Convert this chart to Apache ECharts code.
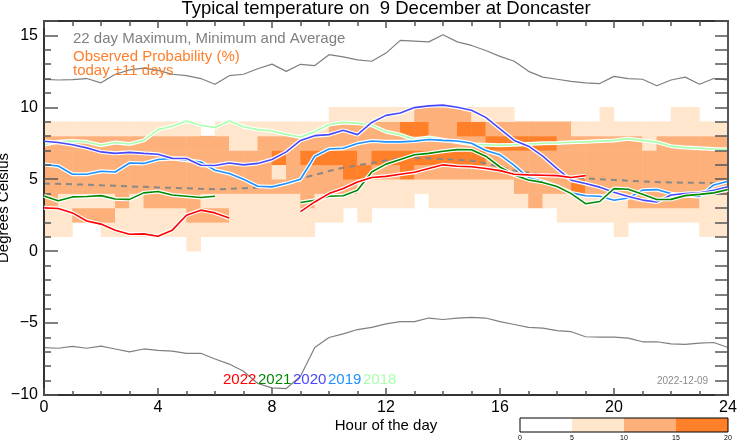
<!DOCTYPE html>
<html><head><meta charset="utf-8">
<script src="https://cdn.jsdelivr.net/npm/echarts@6/dist/echarts.min.js"></script>
<style>html,body{margin:0;padding:0;background:#fff}#c{width:742px;height:445px}</style>
</head><body><div id="c"></div>
<script>
// ---- data ----
const hours = [0,0.5,1,1.5,2,2.5,3,3.5,4,4.5,5,5.5,6,6.5,7,7.5,8,8.5,9,9.5,10,10.5,11,11.5,12,12.5,13,13.5,14,14.5,15,15.5,16,16.5,17,17.5,18,18.5,19,19.5,20,20.5,21,21.5,22,22.5,23,23.5,24];
const xTicks = [0,4,8,12,16,20,24];
const yTicks = [-10,-5,0,5,10,15];
const maxT = [11.94,11.9,11.93,12.0,11.7,12.3,12.6,12.73,12.57,12.3,12.2,12.0,11.6,12.2,12.3,12.68,13.0,12.5,12.99,12.9,13.66,13.5,13.3,13.2,13.77,14.65,14.6,14.55,15.05,14.55,14.3,13.95,13.54,13.2,12.5,12.1,11.95,11.8,11.7,11.65,12.15,12.0,11.95,11.5,11.9,12.1,11.6,12.0,11.9];
const minT = [-6.71,-6.75,-6.62,-6.75,-6.6,-6.8,-7.0,-6.8,-6.9,-6.95,-7.1,-7.1,-7.5,-7.85,-8.35,-9.2,-9.5,-9.55,-8.7,-6.7,-6.0,-5.75,-5.45,-5.3,-5.05,-4.9,-4.9,-4.65,-4.75,-4.65,-4.6,-4.65,-4.9,-5.1,-5.3,-5.35,-5.53,-5.6,-5.95,-5.97,-5.97,-6.05,-6.3,-6.3,-6.45,-6.48,-6.4,-6.35,-6.7];
const avgT = [4.7,4.68,4.65,4.62,4.58,4.55,4.5,4.47,4.43,4.4,4.37,4.33,4.3,4.33,4.37,4.42,4.5,4.75,5.05,5.3,5.57,5.8,5.97,6.13,6.3,6.45,6.48,6.45,6.4,6.35,6.3,6.1,5.85,5.6,5.45,5.33,5.2,5.13,5.07,5.0,4.95,4.9,4.85,4.8,4.78,4.76,4.75,4.73,4.72];
const y2018 = [7.41,7.6,7.66,7.6,7.36,7.55,7.45,7.7,8.45,8.68,9.05,8.75,8.6,9.05,8.65,8.45,8.35,8.12,7.94,8.3,8.8,8.95,8.9,8.75,8.3,8.1,7.76,7.9,7.75,7.58,7.43,7.4,7.36,7.4,7.45,7.5,7.52,7.57,7.6,7.65,7.7,7.82,7.7,7.58,7.3,7.2,7.15,7.1,7.06];
const y2019 = [6.02,5.92,5.35,5.35,5.56,5.5,6.13,6.1,6.37,6.44,6.32,6.2,5.62,5.4,5.0,4.51,4.47,4.7,5.0,6.6,7.1,7.15,7.48,7.66,7.6,7.6,7.65,7.76,7.7,7.66,7.5,7.0,6.7,5.97,5.1,4.85,4.5,4.05,3.85,3.82,3.54,3.7,4.24,4.28,4.0,3.85,3.8,4.6,4.86];
const y2020 = [7.64,7.55,7.4,7.18,6.9,6.8,6.87,6.8,6.74,6.45,6.44,5.97,5.95,6.13,6.0,6.1,6.37,6.9,7.7,8.03,8.1,8.4,8.1,8.95,9.44,9.6,9.98,10.1,10.15,10.0,9.8,9.3,8.5,7.7,7.3,6.6,5.74,4.93,4.7,4.45,4.1,3.8,3.55,3.42,3.9,4.0,4.05,4.24,4.47];
const y2021 = [3.84,3.5,3.77,3.8,3.86,3.63,3.6,4.05,4.15,3.9,3.82,3.73,3.82,null,null,null,null,null,3.38,3.54,3.82,3.85,4.24,5.5,6.05,6.37,6.7,6.8,6.95,7.06,7.05,6.6,5.85,5.3,4.95,4.78,4.5,4.0,3.3,3.45,4.35,4.3,3.95,3.59,3.6,3.86,3.95,4.05,4.28];
const y2022 = [3.01,2.97,2.66,2.1,1.88,1.46,1.18,1.2,1.04,1.46,2.5,2.85,2.66,2.3,null,null,null,null,2.75,3.42,4.0,4.35,4.81,5.12,5.2,5.35,5.48,5.75,6.0,5.9,5.87,5.75,5.6,5.35,5.3,5.28,5.25,5.12,5.25,null,null,null,null,null,null,null,null,null,null];
// observed probability (%) per half-hour column, one array per 1-degree bin
const prob0 = [0,0,0,0,0,0,0,0, 0,0,7,0,0,0,0,0, 0,0,0,0,0,0,0,0, 0,0,0,0,0,0,0,0, 0,0,0,0,0,0,0,0, 0,0,0,0,0,0,0,0];
const prob1 = [7,7,0,0,7,7,7,7, 7,7,7,7,7,7,7,7, 7,7,7,0,0,0,0,0, 0,0,0,0,0,0,0,0, 0,0,0,0,0,0,0,0, 7,0,0,0,0,0,7,7];
const prob2 = [7,7,12,12,12,7,7,7, 7,7,12,12,12,7,7,7, 7,7,7,7,7,0,7,0, 0,0,0,0,0,0,0,0, 0,0,0,0,7,7,7,7, 7,7,7,7,7,7,7,7];
const prob3 = [12,7,7,7,7,12,7,12, 12,12,12,7,7,7,7,7, 7,7,12,7,7,7,7,7, 7,7,0,7,7,7,7,7, 7,7,12,7,7,7,7,7, 7,12,12,12,12,12,7,7];
const prob4 = [12,12,12,12,12,12,12,12, 12,12,12,12,12,12,12,12, 12,12,12,12,12,12,7,7, 7,7,7,7,7,7,7,7, 7,12,12,12,12,17,12,12, 12,12,12,12,12,12,12,12];
const prob5 = [12,12,12,12,12,12,12,12, 12,12,12,12,12,12,12,12, 7,12,12,12,12,17,17,12, 12,17,12,12,12,12,12,12, 12,12,12,12,12,12,12,12, 12,12,12,12,12,12,12,12];
const prob6 = [12,12,12,12,12,12,12,12, 12,12,12,12,12,12,12,12, 17,12,17,17,17,17,12,17, 17,17,17,17,17,17,17,12, 12,12,12,12,12,12,12,12, 12,12,12,12,12,12,12,12];
const prob7 = [12,12,12,12,12,12,12,12, 12,12,12,12,12,7,7,12, 12,12,12,12,12,12,12,12, 12,12,12,12,12,12,12,17, 17,17,17,17,12,12,12,12, 12,12,7,12,12,12,12,12];
const prob8 = [7,7,7,7,7,7,7,7, 7,7,7,0,7,7,7,7, 7,7,7,7,12,12,12,12, 12,17,17,12,12,17,17,12, 12,12,12,12,12,7,7,7, 7,7,7,7,7,7,7,7];
const prob9 = [0,0,0,0,0,0,0,0, 0,0,0,0,0,0,0,0, 0,0,0,0,7,7,7,7, 7,7,12,12,12,12,7,7, 7,0,0,0,0,0,0,7, 0,0,0,0,7,7,0,0];
const cbTicks = [0,5,10,15,20];
const years = ['2022','2021','2020','2019','2018'];

// ---- style ----
const FONT = '"Liberation Sans", Arial, Helvetica, sans-serif';
const C_LIGHT = '#FFE6CC', C_MED = '#FDB07A', C_DARK = '#FF8029';
const yearColors = {'2022':'#FF0000','2021':'#008A00','2020':'#4848FF','2019':'#1E90FF','2018':'#AAFFAA'};
const yearData = {'2022':y2022,'2021':y2021,'2020':y2020,'2019':y2019,'2018':y2018};

const probRows = [prob0,prob1,prob2,prob3,prob4,prob5,prob6,prob7,prob8,prob9];
const heat = [];
probRows.forEach((row, t) => row.forEach((v, c) => { if (v > 0) heat.push([c, t + 10, v]); }));
const colCats = hours.slice(0, 48).map(String);
const binCats = [];
for (let b = -10; b < 16; b++) binCats.push(String(b));
const pair = arr => hours.map((h, i) => [h, arr[i] == null ? '-' : arr[i]]);

const AX = '#333';
const valAxisBase = (extra) => Object.assign({
  type: 'value', gridIndex: 0, min: 0, max: 24, z: 10,
  splitLine: {show: false},
  axisLine: {show: false, onZero: false, lineStyle: {color: AX, width: 2}},
  axisTick: {show: true, inside: true, lineStyle: {color: '#555', width: 1.5}},
  axisLabel: {show: false}
}, extra);

const series = [];
series.push({
  type: 'heatmap', xAxisIndex: 4, yAxisIndex: 3, data: heat, silent: true, z: 1,
  itemStyle: {borderWidth: 0}, emphasis: {disabled: true}
});
const lineBase = {type: 'line', xAxisIndex: 0, yAxisIndex: 0, showSymbol: false, symbol: 'none', silent: true, z: 3};
series.push(Object.assign({}, lineBase, {name: 'max', data: pair(maxT), lineStyle: {color: '#7F7F7F', width: 1.2}}));
series.push(Object.assign({}, lineBase, {name: 'min', data: pair(minT), lineStyle: {color: '#7F7F7F', width: 1.2}}));
series.push(Object.assign({}, lineBase, {name: 'avg', data: pair(avgT), z: 4, lineStyle: {color: '#888888', width: 2, type: [6, 5]}}));
['2018','2019','2020','2021','2022'].forEach((y, k) => {
  series.push(Object.assign({}, lineBase, {name: y + 'h', data: pair(yearData[y]), z: 5 + 2 * k, lineStyle: {color: '#FFFFFF', width: 4}}));
  series.push(Object.assign({}, lineBase, {name: y, data: pair(yearData[y]), z: 6 + 2 * k, lineStyle: {color: yearColors[y], width: 1.6}}));
});
const cbColors = ['#FFFFFF', C_LIGHT, C_MED, C_DARK];
cbColors.forEach((col, i) => {
  series.push({type: 'bar', xAxisIndex: 5, yAxisIndex: 4, stack: 'cb', silent: true,
    data: [cbTicks[i + 1] - cbTicks[i]], barWidth: '100%', itemStyle: {color: col}});
});

const txt = (x, y, text, fill, size, align) => ({type: 'text', x: x, y: y, silent: true, z: 100,
  style: {text: text, fill: fill, font: size + 'px ' + FONT, align: align || 'left', verticalAlign: 'top'}});
const yearX = [223, 258, 293, 328, 363];

const option = {
  animation: false,
  backgroundColor: '#FFFFFF',
  textStyle: {fontFamily: FONT},
  grid: [
    {left: 44, top: 21, width: 684, height: 374, show: false, outerBoundsMode: 'none'},
    {left: 520, top: 418, width: 208, height: 14, show: true, borderColor: '#000', borderWidth: 1, backgroundColor: 'transparent', z: 5, outerBoundsMode: 'none'}
  ],
  xAxis: [
    valAxisBase({position: 'bottom', interval: 1, axisLine: {show: true, onZero: false, lineStyle: {color: AX, width: 2}},
      axisTick: {show: true, inside: true, length: 4, lineStyle: {color: '#555', width: 1.5}}}),
    valAxisBase({position: 'bottom', interval: 4, axisTick: {show: true, inside: true, length: 7, lineStyle: {color: '#555', width: 1.5}},
      axisLabel: {show: true, color: '#000', fontSize: 16, margin: 5, fontFamily: FONT,
        formatter: v => xTicks.indexOf(v) >= 0 ? String(v) : ''},
      name: 'Hour of the day', nameLocation: 'middle', nameGap: 23, nameMoveOverlap: false,
      nameTextStyle: {color: '#000', fontSize: 15, fontFamily: FONT}}),
    valAxisBase({position: 'top', interval: 1, axisLine: {show: true, onZero: false, lineStyle: {color: AX, width: 2}},
      axisTick: {show: true, inside: true, length: 5, lineStyle: {color: '#555', width: 1.5}}}),
    valAxisBase({position: 'top', interval: 4, axisTick: {show: true, inside: true, length: 7, lineStyle: {color: '#555', width: 1.5}}}),
    {type: 'category', gridIndex: 0, data: colCats, show: false, boundaryGap: true},
    {type: 'value', gridIndex: 1, min: 0, max: 20, interval: 5, axisLine: {show: false}, axisTick: {show: false},
      splitLine: {show: false}, axisLabel: {show: true, fontSize: 7, margin: 3, color: '#000', fontFamily: FONT}}
  ],
  yAxis: [
    valAxisBase({position: 'left', min: -10, max: 16, interval: 1, axisLine: {show: true, onZero: false, lineStyle: {color: AX, width: 2}},
      axisTick: {show: true, inside: true, length: 7, lineStyle: {color: '#555', width: 1.5}}}),
    valAxisBase({position: 'left', min: -10, max: 16, interval: 5,
      axisTick: {show: true, inside: true, length: 14, lineStyle: {color: '#555', width: 1.5}},
      axisLabel: {show: true, color: '#000', fontSize: 16, margin: 6, fontFamily: FONT,
        formatter: v => yTicks.indexOf(v) >= 0 ? String(v).replace('-', '\u2212') : ''},
      name: 'Degrees Celsius', nameLocation: 'middle', nameGap: 33, nameMoveOverlap: false,
      nameTextStyle: {color: '#000', fontSize: 15, fontFamily: FONT}}),
    valAxisBase({position: 'right', min: -10, max: 16, interval: 1, axisLine: {show: true, onZero: false, lineStyle: {color: '#555', width: 2}},
      axisTick: {show: true, inside: true, length: 13, lineStyle: {color: '#555', width: 1.5}}}),
    {type: 'category', gridIndex: 0, data: binCats, show: false, boundaryGap: true},
    {type: 'category', gridIndex: 1, data: ['p'], show: false}
  ],
  visualMap: [{
    type: 'piecewise', show: false, seriesIndex: 0, dimension: 2,
    pieces: [
      {min: 0, max: 5, color: '#FFFFFF'},
      {min: 5, max: 10, color: C_LIGHT},
      {min: 10, max: 15, color: C_MED},
      {min: 15, max: 20, color: C_DARK}
    ]
  }],
  graphic: [
    txt(386, -1, 'Typical temperature on  9 December at Doncaster', '#000', 18.5, 'center'),
    txt(73, 31, '22 day Maximum, Minimum and Average', '#808080', 15),
    txt(73, 49, 'Observed Probability (%)', '#FF7F2A', 15),
    txt(73, 63, 'today \u00B111 days', '#FF7F2A', 15),
    txt(657, 376, '2022-12-09', '#8C8C8C', 10)
  ].concat(years.map((y, i) => txt(yearX[i], 372, y, yearColors[y], 15))),
  series: series
};
const chart = echarts.init(document.getElementById('c'), null, {renderer: 'canvas'});
chart.setOption(option);
</script></body></html>
